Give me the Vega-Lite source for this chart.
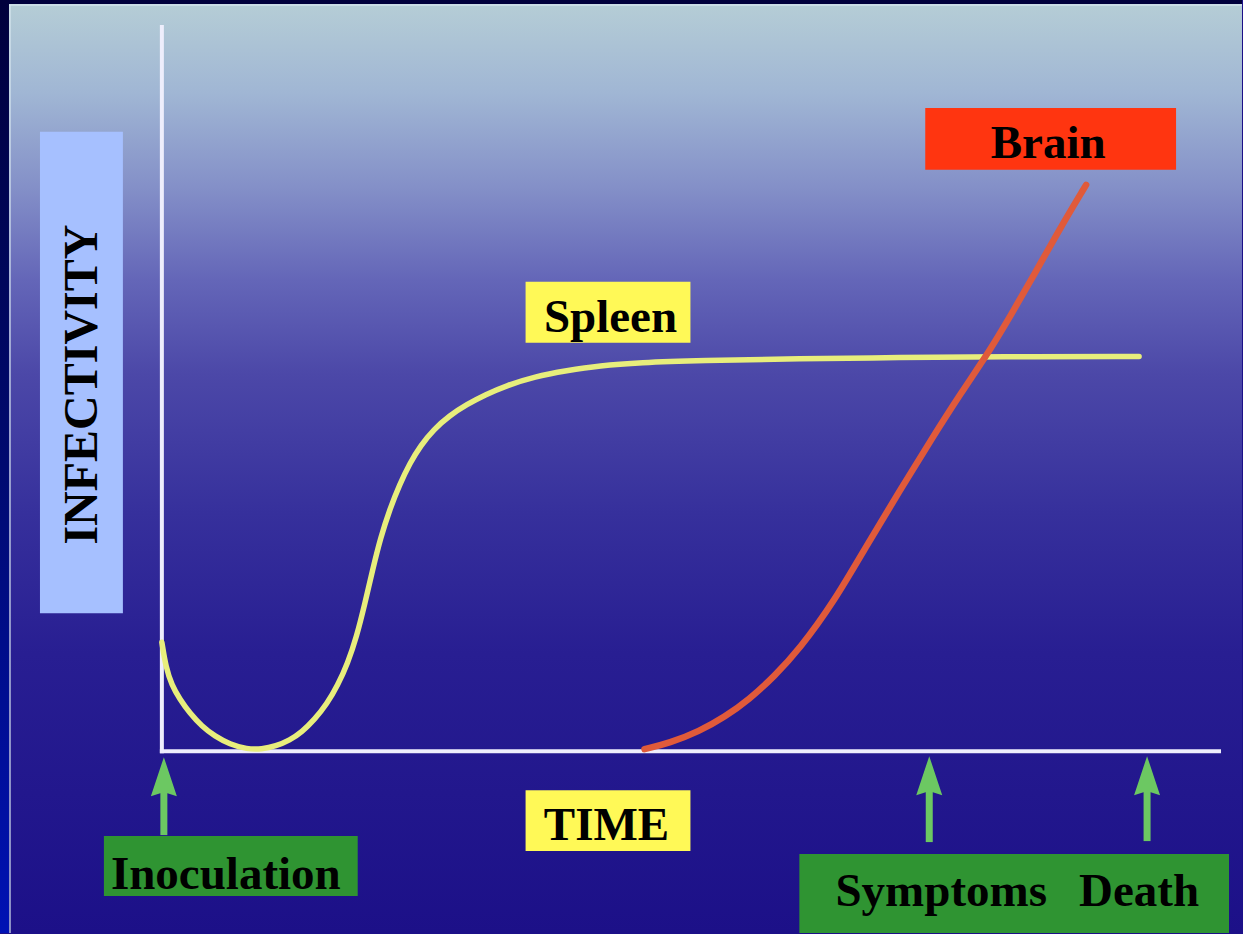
{
  "$schema": "https://vega.github.io/schema/vega-lite/v6.json",
  "width": 1243,
  "height": 934,
  "padding": 0,
  "autosize": {"type": "fit", "contains": "padding"},
  "background": "#1c1088",
  "config": {"view": {"stroke": null}},
  "encoding": {
    "x": {"field": "x", "type": "quantitative", "scale": {"domain": [0, 1243], "nice": false, "zero": false}, "axis": null},
    "y": {"field": "y", "type": "quantitative", "scale": {"domain": [0, 934], "nice": false, "zero": false, "reverse": true}, "axis": null}
  },
  "layer": [
    {
      "data": {"values": [{"x": 0, "y": 0, "x2": 1243, "y2": 934}]},
      "mark": {"type": "rect", "fill": {"gradient": "linear", "x1": 0, "y1": 0, "x2": 0, "y2": 1, "stops": [
        {"offset": 0, "color": "#b6ced6"},
        {"offset": 0.1, "color": "#a0b6d4"},
        {"offset": 0.2, "color": "#8490c8"},
        {"offset": 0.3, "color": "#6466b8"},
        {"offset": 0.4, "color": "#4c48a8"},
        {"offset": 0.55, "color": "#36309c"},
        {"offset": 0.7, "color": "#281e92"},
        {"offset": 1, "color": "#1c1088"}
      ]}},
      "encoding": {"x2": {"field": "x2"}, "y2": {"field": "y2"}}
    },
    {
      "data": {"values": [{"x": 0, "y": 0, "x2": 9, "y2": 934}]},
      "mark": {"type": "rect", "fill": {"gradient": "linear", "x1": 0, "y1": 0, "x2": 0, "y2": 1, "stops": [
        {"offset": 0, "color": "#00003c"},
        {"offset": 0.5, "color": "#000a70"},
        {"offset": 1, "color": "#0012b4"}
      ]}},
      "encoding": {"x2": {"field": "x2"}, "y2": {"field": "y2"}}
    },
    {
      "data": {"values": [{"x": 0, "y": 0, "x2": 1243, "y2": 4}]},
      "mark": {"type": "rect", "fill": "#00003c"},
      "encoding": {"x2": {"field": "x2"}, "y2": {"field": "y2"}}
    },
    {
      "data": {"values": [{"x": 10, "y": 5, "x2": 10, "y2": 934}, {"x": 9, "y": 5, "x2": 1243, "y2": 5}]},
      "mark": {"type": "rule", "stroke": "#d8e8f0", "strokeWidth": 2, "opacity": 0.6},
      "encoding": {"x2": {"field": "x2"}, "y2": {"field": "y2"}}
    },
    {
      "data": {"values": [{"name": "INFECTIVITY", "x": 40, "y": 132, "x2": 123, "y2": 614}]},
      "mark": {"type": "rect", "fill": "#a6c0ff"},
      "encoding": {"x2": {"field": "x2"}, "y2": {"field": "y2"}}
    },
    {
      "data": {"values": [{"x": 162, "y": 25, "x2": 162, "y2": 754}, {"x": 160, "y": 752, "x2": 1222, "y2": 752}]},
      "mark": {"type": "rule", "stroke": "#eeeefc", "strokeWidth": 4},
      "encoding": {"x2": {"field": "x2"}, "y2": {"field": "y2"}}
    },
    {
      "data": {"values": [
        {"x": 162, "y": 643}, {"x": 166, "y": 668}, {"x": 172, "y": 686}, {"x": 180, "y": 700},
        {"x": 190, "y": 714}, {"x": 202, "y": 727}, {"x": 215, "y": 737}, {"x": 230, "y": 745},
        {"x": 247, "y": 750}, {"x": 262, "y": 750}, {"x": 276, "y": 747}, {"x": 290, "y": 741},
        {"x": 302, "y": 733}, {"x": 315, "y": 720}, {"x": 327, "y": 705}, {"x": 338, "y": 686},
        {"x": 348, "y": 664}, {"x": 357, "y": 637}, {"x": 365, "y": 605}, {"x": 373, "y": 570},
        {"x": 381, "y": 538}, {"x": 390, "y": 510}, {"x": 400, "y": 485}, {"x": 410, "y": 464},
        {"x": 421, "y": 446}, {"x": 434, "y": 430}, {"x": 450, "y": 416}, {"x": 467, "y": 405},
        {"x": 486, "y": 395}, {"x": 507, "y": 386}, {"x": 535, "y": 377}, {"x": 567, "y": 371},
        {"x": 600, "y": 366}, {"x": 640, "y": 363}, {"x": 700, "y": 361}, {"x": 800, "y": 359},
        {"x": 900, "y": 358}, {"x": 1000, "y": 357}, {"x": 1140, "y": 357}
      ]},
      "mark": {"type": "line", "stroke": "#e8ee7c", "strokeWidth": 5.5, "interpolate": "basis", "strokeCap": "round"}
    },
    {
      "data": {"values": [
        {"x": 645, "y": 750}, {"x": 670, "y": 744}, {"x": 700, "y": 732}, {"x": 725, "y": 718},
        {"x": 750, "y": 700}, {"x": 775, "y": 677}, {"x": 800, "y": 650}, {"x": 835, "y": 602},
        {"x": 868, "y": 545}, {"x": 900, "y": 492}, {"x": 932, "y": 440}, {"x": 962, "y": 393},
        {"x": 990, "y": 352}, {"x": 1012, "y": 315}, {"x": 1035, "y": 275}, {"x": 1060, "y": 230},
        {"x": 1087, "y": 185}
      ]},
      "mark": {"type": "line", "stroke": "#e05a3a", "strokeWidth": 6.5, "interpolate": "basis", "strokeCap": "round"}
    },
    {
      "data": {"values": [
        {"name": "Brain", "x": 926, "y": 108, "x2": 1177, "y2": 170},
        {"name": "Spleen", "x": 526, "y": 282, "x2": 691, "y2": 343},
        {"name": "TIME", "x": 526, "y": 791, "x2": 691, "y2": 852},
        {"name": "Inoculation", "x": 104, "y": 837, "x2": 358, "y2": 897},
        {"name": "Symptoms Death", "x": 800, "y": 855, "x2": 1230, "y2": 934}
      ]},
      "mark": {"type": "rect"},
      "encoding": {
        "x2": {"field": "x2"},
        "y2": {"field": "y2"},
        "fill": {"field": "name", "type": "nominal", "legend": null,
          "scale": {"domain": ["Brain", "Spleen", "TIME", "Inoculation", "Symptoms Death"],
                    "range": ["#ff3510", "#fff957", "#fff957", "#2f9432", "#2f9432"]}}
      }
    },
    {
      "data": {"values": [
        {"label": "Brain", "x": 1049, "y": 158},
        {"label": "Spleen", "x": 611, "y": 332},
        {"label": "TIME", "x": 607, "y": 841},
        {"label": "Inoculation", "x": 226, "y": 890},
        {"label": "Symptoms", "x": 942, "y": 907},
        {"label": "Death", "x": 1140, "y": 907}
      ]},
      "mark": {"type": "text", "font": "Liberation Serif", "fontWeight": "bold", "fontSize": 47, "fill": "#000000", "align": "center", "baseline": "alphabetic"},
      "encoding": {"text": {"field": "label"}}
    },
    {
      "data": {"values": [{"label": "INFECTIVITY", "x": 97, "y": 385}]},
      "mark": {"type": "text", "font": "Liberation Serif", "fontWeight": "bold", "fontSize": 48, "fill": "#000000", "align": "center", "baseline": "alphabetic", "angle": 270},
      "encoding": {"text": {"field": "label"}}
    },
    {
      "data": {"values": [
        {"x": 164, "y": 792, "x2": 164, "y2": 836},
        {"x": 930, "y": 792, "x2": 930, "y2": 843},
        {"x": 1148, "y": 792, "x2": 1148, "y2": 842}
      ]},
      "mark": {"type": "rule", "stroke": "#6cc862", "strokeWidth": 7},
      "encoding": {"x2": {"field": "x2"}, "y2": {"field": "y2"}}
    },
    {
      "data": {"values": [
        {"x": 164, "y": 778},
        {"x": 930, "y": 777},
        {"x": 1148, "y": 777}
      ]},
      "mark": {"type": "point", "filled": true, "fill": "#6cc862", "opacity": 1, "strokeWidth": 0, "size": 1600,
        "shape": "M0,-1L0.65,0.95L0.18,0.8L-0.18,0.8L-0.65,0.95Z"}
    }
  ]
}
